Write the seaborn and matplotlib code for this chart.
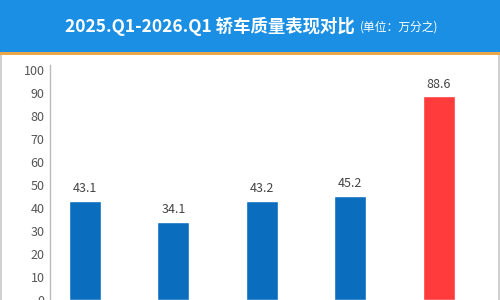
import matplotlib
matplotlib.use("Agg")
import matplotlib.pyplot as plt
import seaborn as sns
import pandas as pd
from matplotlib.patches import Rectangle

categories = ["2025.Q1", "2025.Q2", "2025.Q3", "2025.Q4", "2026.Q1"]
values = [43.1, 34.1, 43.2, 45.2, 88.6]
bar_colors = ["#0A6DBE", "#0A6DBE", "#0A6DBE", "#0A6DBE", "#FF3B3B"]
yticks = [0, 10, 20, 30, 40, 50, 60, 70, 80, 90, 100]
title_main = "2025.Q1-2026.Q1 轿车质量表现对比"
title_unit = "(单位：万分之)"

sns.set_theme(style="white")
plt.rcParams['font.family'] = ['Noto Sans CJK SC', 'DejaVu Sans']

W, H = 500, 300
fig = plt.figure(figsize=(W / 100, H / 100), dpi=100)
fig.patch.set_facecolor("white")

# banner
fig.patches.append(Rectangle((0, 1 - 52 / H), 1, 52 / H, transform=fig.transFigure,
                             facecolor="#1A8FE3", edgecolor="none", zorder=0))
fig.patches.append(Rectangle((0, 1 - 55 / H), 1, 3 / H, transform=fig.transFigure,
                             facecolor="#E9A64A", edgecolor="none", zorder=0))
# side borders
fig.patches.append(Rectangle((0, 0), 1.5 / W, 1 - 55 / H, transform=fig.transFigure,
                             facecolor="#D0D0D0", edgecolor="none", zorder=0))
fig.patches.append(Rectangle((1 - 2 / W, 0), 1.5 / W, 1 - 55 / H, transform=fig.transFigure,
                             facecolor="#D0D0D0", edgecolor="none", zorder=0))

t_main = fig.text(65 / W, 1 - 26 / H, title_main, ha="left", va="center",
                  color="white", fontsize=12.5, fontweight="bold")
fig.canvas.draw()
bb = t_main.get_window_extent(renderer=fig.canvas.get_renderer())
fig.text((bb.x1 + 5) / W, 1 - 27 / H, title_unit, ha="left", va="center",
         color="white", fontsize=8.5)

ax_left = 50 / W
ax_right = 483 / W
ax_top = 65 / H
ax = fig.add_axes([ax_left, 0, ax_right - ax_left, 1 - ax_top])

df = pd.DataFrame({"cat": categories, "val": values})
sns.barplot(data=df, x="cat", y="val", hue="cat", palette=bar_colors,
            legend=False, width=0.36, ax=ax, saturation=1)

for i, v in enumerate(values):
    ax.text(i, v + 2.5, f"{v}", ha="center", va="bottom", fontsize=9, color="#444444")

ax.set_xlim(-0.395, 4.5)
ax.set_ylim(0, 102.2)
ax.set_yticks(yticks)
ax.set_yticklabels([str(t) for t in yticks], fontsize=9, color="#555555")
ax.set_xticks([])
ax.set_xlabel("")
ax.set_ylabel("")
ax.tick_params(axis="y", length=0, pad=4)
for s in ["top", "right", "bottom"]:
    ax.spines[s].set_visible(False)
ax.spines["left"].set_color("#BBBBBB")
ax.spines["left"].set_linewidth(1)
ax.set_facecolor("none")

fig.savefig("out.png", dpi=100)
